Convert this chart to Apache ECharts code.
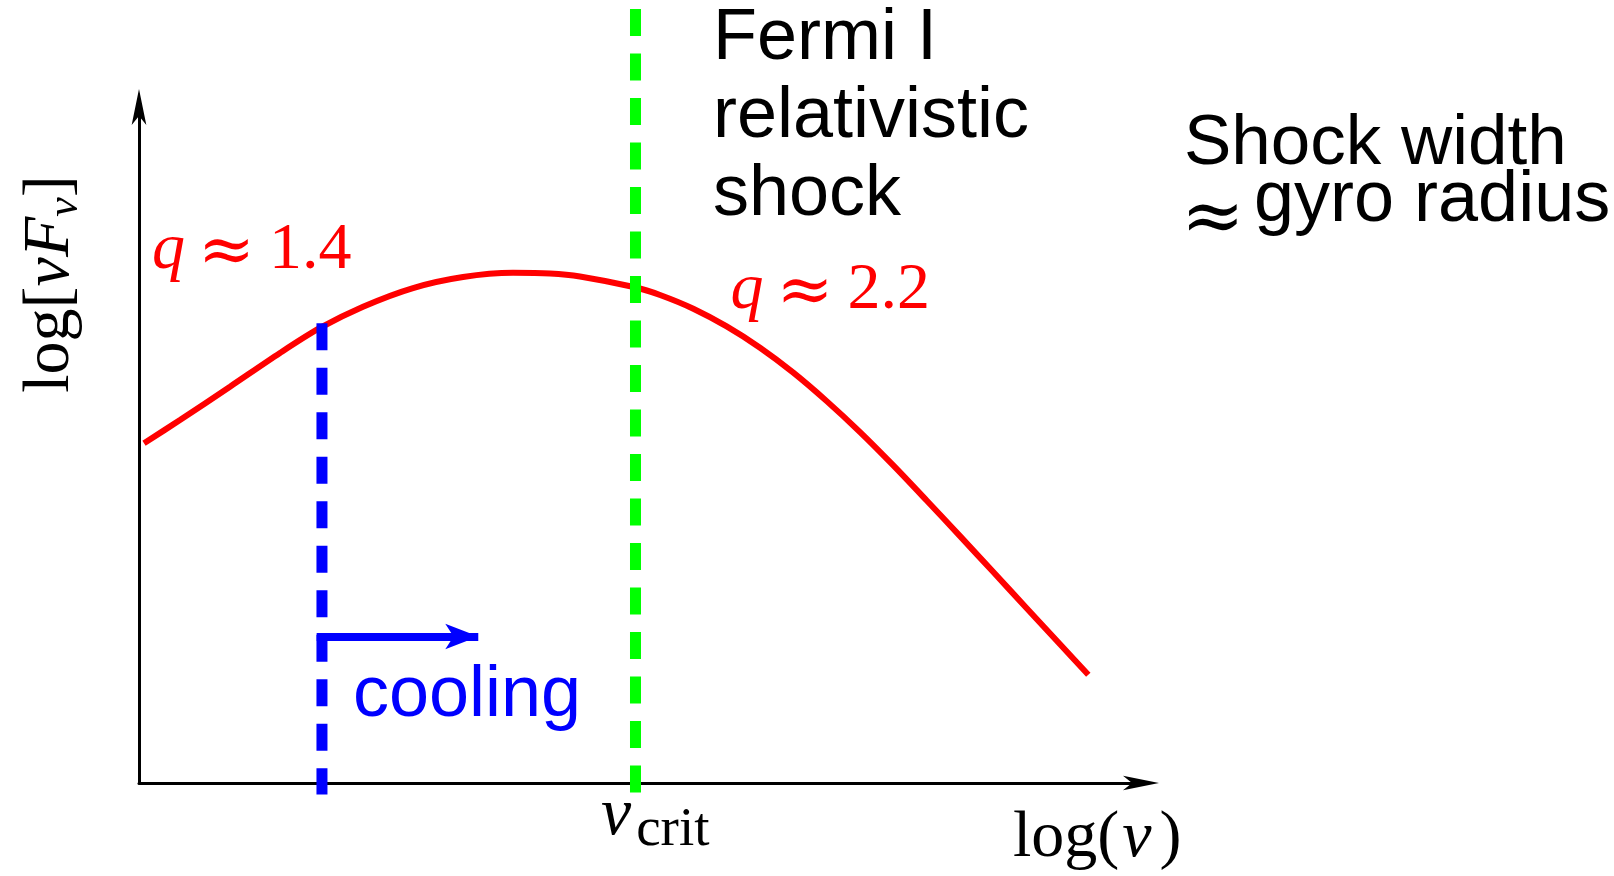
<!DOCTYPE html>
<html>
<head>
<meta charset="utf-8">
<script src="https://cdn.jsdelivr.net/npm/echarts@6/dist/echarts.min.js"></script>
<style>
  html, body { margin: 0; padding: 0; background: #ffffff; }
  #chart { width: 1614px; height: 876px; }
</style>
</head>
<body>
<div id="chart"></div>
<script>
// Schematic spectrum: log(nu F_nu) against log(nu), arbitrary units on both axes (0..10).
const curveX = [0.050, 0.409, 0.908, 1.407, 1.806, 2.236, 2.735, 3.234, 3.733, 4.102, 4.401, 4.950,
                5.200, 5.532, 5.865, 6.198, 6.530, 6.863, 7.196, 7.528, 7.861, 8.194, 8.526, 8.859, 9.192, 9.474];
const curveY = [5.025, 5.370, 5.862, 6.361, 6.731, 7.046, 7.322, 7.485, 7.547, 7.537, 7.493, 7.333,
                7.219, 7.016, 6.754, 6.439, 6.070, 5.649, 5.191, 4.698, 4.179, 3.652, 3.120, 2.586, 2.053, 1.601];

// Cooling break (blue) and critical frequency (green) markers.
const coolingX = [1.826, 1.826];
const coolingY = [6.80, -0.17];
const critX = [4.955, 4.955];
const critY = [11.45, -0.16];

// Horizontal "cooling" arrow (start, tip).
const arrowX = [1.773, 3.386];
const arrowY = [2.167, 2.167];

const SANS = "'Liberation Sans', Arial, Helvetica, sans-serif";
const SERIF = "'Liberation Serif', 'Times New Roman', 'DejaVu Serif', serif";
const MATHSYM = "'DejaVu Serif', serif";

const pairs = (xs, ys) => xs.map((x, i) => [x, ys[i]]);

const axisCommon = {
  type: 'value',
  min: 0,
  max: 10,
  axisLine: {
    show: true,
    lineStyle: { color: '#000000', width: 3 },
    symbol: ['none', 'arrow'],
    symbolSize: [11, 36],
    symbolOffset: [0, 18]
  },
  axisTick: { show: false },
  axisLabel: { show: false },
  splitLine: { show: false }
};

const mathRich = {
  i: { fontFamily: SERIF, fontStyle: 'italic', fontSize: 66, fill: '#ff0000' },
  r: { fontFamily: MATHSYM, fontSize: 68, padding: [6, 14, 0, 13], fill: '#ff0000' },
  n: { fontFamily: SERIF, fontSize: 66, fill: '#ff0000' }
};

const chart = echarts.init(document.getElementById('chart'), null, { renderer: 'canvas' });

chart.setOption({
  animation: false,
  backgroundColor: '#ffffff',
  grid: { left: 139, top: 107, width: 1002, height: 676 },
  xAxis: axisCommon,
  yAxis: axisCommon,
  series: [
    {
      type: 'line',
      data: pairs(curveX, curveY),
      smooth: 0.3,
      showSymbol: false,
      silent: true,
      lineStyle: { color: '#ff0000', width: 6 },
      z: 2
    },
    {
      type: 'line',
      data: pairs(coolingX, coolingY),
      clip: false,
      showSymbol: false,
      silent: true,
      lineStyle: { color: '#0000ff', width: 11, type: [27, 17.5], cap: 'butt' },
      z: 3
    },
    {
      type: 'line',
      data: pairs(critX, critY),
      clip: false,
      showSymbol: false,
      silent: true,
      lineStyle: { color: '#00ff00', width: 11, type: [27, 17.5], cap: 'butt' },
      z: 4
    },
    {
      type: 'lines',
      coordinateSystem: 'cartesian2d',
      data: [{ coords: pairs(arrowX, arrowY) }],
      symbol: ['none', 'arrow'],
      symbolSize: [1, [19, 33]],
      silent: true,
      lineStyle: { color: '#0000ff', width: 8, opacity: 1, curveness: 0 },
      z: 3
    }
  ],
  graphic: [
    {
      type: 'text', x: 713, y: 0,
      style: {
        text: 'Fermi I\nrelativistic\nshock',
        fontFamily: SANS, fontSize: 72, lineHeight: 78,
        fill: '#000000', align: 'left', verticalAlign: 'top'
      }
    },
    {
      type: 'text', x: 1184, y: 144.4,
      style: {
        text: 'Shock width', fontFamily: SANS, fontSize: 71,
        fill: '#000000', align: 'left', verticalAlign: 'middle'
      }
    },
    {
      type: 'text', x: 1181, y: 221,
      style: {
        text: '≈', fontFamily: MATHSYM, fontSize: 76,
        fill: '#000000', align: 'left', verticalAlign: 'middle'
      }
    },
    {
      type: 'text', x: 1254, y: 201,
      style: {
        text: 'gyro radius', fontFamily: SANS, fontSize: 72,
        fill: '#000000', align: 'left', verticalAlign: 'middle'
      }
    },
    {
      type: 'text', x: 353, y: 696,
      style: {
        text: 'cooling', fontFamily: SANS, fontSize: 72,
        fill: '#0000ff', align: 'left', verticalAlign: 'middle'
      }
    },
    {
      type: 'text', x: 152, y: 251,
      style: {
        text: '{i|q}{r|≈}{n|1.4}', rich: mathRich,
        align: 'left', verticalAlign: 'middle'
      }
    },
    {
      type: 'text', x: 730.5, y: 291,
      style: {
        text: '{i|q}{r|≈}{n|2.2}', rich: mathRich,
        align: 'left', verticalAlign: 'middle'
      }
    },
    {
      type: 'text', x: 601, y: 816.6,
      style: {
        text: '{i|ν}{s|crit}',
        rich: {
          i: { fontFamily: SERIF, fontStyle: 'italic', fontSize: 68, fill: '#000000' },
          s: { fontFamily: SERIF, fontSize: 55, padding: [28, 0, 0, 5], fill: '#000000' }
        },
        align: 'left', verticalAlign: 'middle'
      }
    },
    {
      type: 'text', x: 1013, y: 838.4,
      style: {
        text: '{r|log(}{i|ν}{r|)}',
        rich: {
          r: { fontFamily: SERIF, fontSize: 66, fill: '#000000' },
          i: { fontFamily: SERIF, fontStyle: 'italic', fontSize: 66, padding: [0, 8, 0, 3], fill: '#000000' }
        },
        align: 'left', verticalAlign: 'middle'
      }
    },
    {
      type: 'text', x: 50.7, y: 284, rotation: Math.PI / 2,
      style: {
        text: '{r|log[}{i|νF}{s|ν}{r|]}',
        rich: {
          r: { fontFamily: SERIF, fontSize: 66, fill: '#000000' },
          i: { fontFamily: SERIF, fontStyle: 'italic', fontSize: 66, fill: '#000000' },
          s: { fontFamily: SERIF, fontStyle: 'italic', fontSize: 44, padding: [30, 0, 0, 0], fill: '#000000' }
        },
        align: 'center', verticalAlign: 'middle'
      }
    }
  ]
});
</script>
</body>
</html>
